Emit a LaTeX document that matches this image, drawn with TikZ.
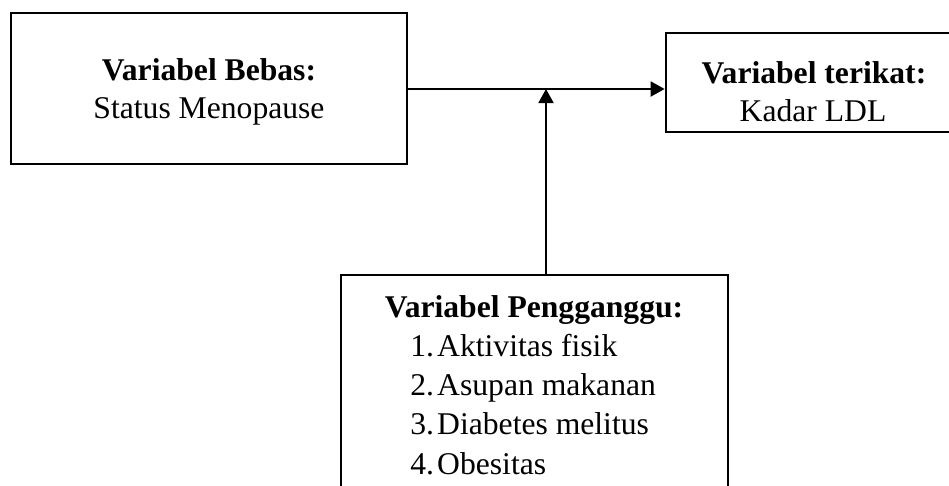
\documentclass[tikz,border=0pt]{standalone}
\usepackage{fontspec}
\setmainfont{Liberation Serif}
\usetikzlibrary{arrows.meta}

\begin{document}
\begin{tikzpicture}[x=0.02cm,y=-0.02cm,>={Triangle[length=0.28cm,width=0.3cm]},
    kotak/.style={draw,line width=1.6pt,inner sep=0pt},
    teks/.style={font=\fontsize{18pt}{21.6pt}\selectfont,inner sep=0pt}]
        \useasboundingbox (0,0) rectangle (949,485);
        \clip (0,0) rectangle (949,485);
        % boxes
        \node[kotak,minimum width=7.92cm,minimum height=3.02cm] (bebas) at (209,88.5) {};
        \node[kotak,minimum width=5.92cm,minimum height=1.98cm] (terikat) at (814,82.5) {};
        \node[kotak,minimum width=7.74cm,minimum height=4.6cm] (pengganggu) at (534.5,390) {};

        % texts
        \node[teks,anchor=base] (bebas-judul) at (209,80) {\textbf{Variabel Bebas:}};
        \node[teks,anchor=base] (bebas-isi) at (209,118) {Status Menopause};
        \node[teks,anchor=base] (terikat-judul) at (814,83) {\textbf{Variabel terikat:}};
        \node[teks,anchor=base] (terikat-isi) at (813,121) {Kadar LDL};
        \node[teks,anchor=base] (peng-judul) at (534,317) {\textbf{Variabel Pengganggu:}};
        \foreach \t [count=\i] in {Aktivitas fisik,Asupan makanan,Diabetes melitus,Obesitas}
          \node[teks,anchor=base west] (item\i) at (410,317+39.3*\i) {\makebox[15.3pt][l]{\i.}\t};

        % arrows
        \coordinate (temu) at (546,89);
        \draw[->,line width=1.1pt] (bebas.east |- temu) -- (terikat.west |- temu);
        \draw[->,line width=1.1pt] (temu |- pengganggu.north) -- (temu);
\end{tikzpicture}
\end{document}
